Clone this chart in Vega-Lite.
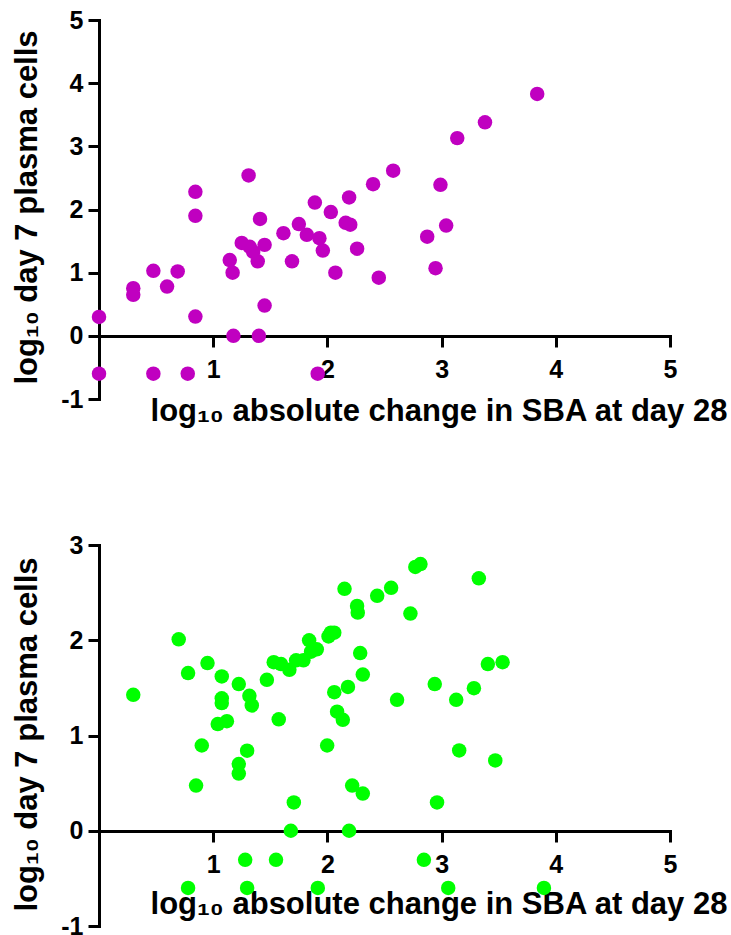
{
  "$schema": "https://vega.github.io/schema/vega-lite/v6.json",
  "padding": {"left": 10, "top": 8, "right": 5, "bottom": 5},
  "background": "white",
  "bounds": "flush",
  "spacing": 146,
  "config": {
    "view": {"stroke": null},
    "axis": {
      "grid": false,
      "domainColor": "black",
      "domainWidth": 3,
      "domainCap": "square",
      "tickColor": "black",
      "tickWidth": 3,
      "tickSize": 11,
      "labelFont": "Liberation Sans",
      "labelFontSize": 25,
      "labelFontWeight": "bold",
      "labelColor": "black",
      "labelOverlap": false,
      "labelFlush": false,
      "titleFont": "Liberation Sans",
      "titleFontSize": 31,
      "titleFontWeight": "bold",
      "titleColor": "black"
    }
  },
  "datasets": {
    "top": [
      {"x": 0.0, "y": 0.30}, {"x": 0.0, "y": -0.6}, {"x": 0.30, "y": 0.755}, {"x": 0.30, "y": 0.65},
      {"x": 0.476, "y": 1.03}, {"x": 0.476, "y": -0.6}, {"x": 0.596, "y": 0.78}, {"x": 0.689, "y": 1.02},
      {"x": 0.777, "y": -0.6}, {"x": 0.844, "y": 2.28}, {"x": 0.844, "y": 1.90}, {"x": 0.844, "y": 0.305},
      {"x": 1.145, "y": 1.20}, {"x": 1.17, "y": 1.00}, {"x": 1.177, "y": 0.0}, {"x": 1.25, "y": 1.47},
      {"x": 1.31, "y": 2.54}, {"x": 1.32, "y": 1.41}, {"x": 1.35, "y": 1.33}, {"x": 1.39, "y": 1.18},
      {"x": 1.40, "y": 0.0}, {"x": 1.41, "y": 1.85}, {"x": 1.45, "y": 1.44}, {"x": 1.45, "y": 0.48},
      {"x": 1.615, "y": 1.625}, {"x": 1.69, "y": 1.18}, {"x": 1.75, "y": 1.77}, {"x": 1.82, "y": 1.60},
      {"x": 1.89, "y": 2.11}, {"x": 1.93, "y": 1.545}, {"x": 1.96, "y": 1.35}, {"x": 1.915, "y": -0.6},
      {"x": 2.03, "y": 1.96}, {"x": 2.07, "y": 1.00}, {"x": 2.16, "y": 1.79}, {"x": 2.19, "y": 2.19},
      {"x": 2.20, "y": 1.76}, {"x": 2.26, "y": 1.38}, {"x": 2.40, "y": 2.40}, {"x": 2.45, "y": 0.92},
      {"x": 2.576, "y": 2.615}, {"x": 2.874, "y": 1.57}, {"x": 2.947, "y": 1.07}, {"x": 2.99, "y": 2.39},
      {"x": 3.04, "y": 1.745}, {"x": 3.137, "y": 3.13}, {"x": 3.38, "y": 3.38}, {"x": 3.837, "y": 3.83}
    ],
    "bottom": [
      {"x": 0.30, "y": 1.427}, {"x": 0.698, "y": 2.01}, {"x": 0.78, "y": 1.655}, {"x": 0.85, "y": 0.475},
      {"x": 0.90, "y": 0.895}, {"x": 0.95, "y": 1.76}, {"x": 1.04, "y": 1.12}, {"x": 1.075, "y": 1.62},
      {"x": 1.075, "y": 1.39}, {"x": 1.075, "y": 1.34}, {"x": 1.12, "y": 1.15}, {"x": 1.224, "y": 1.54},
      {"x": 1.224, "y": 0.70}, {"x": 1.224, "y": 0.60}, {"x": 1.297, "y": 0.84}, {"x": 1.317, "y": 1.417},
      {"x": 1.338, "y": 1.315}, {"x": 1.28, "y": -0.305}, {"x": 1.297, "y": -0.6}, {"x": 0.78, "y": -0.6},
      {"x": 1.47, "y": 1.585}, {"x": 1.53, "y": 1.77}, {"x": 1.55, "y": -0.305}, {"x": 1.574, "y": 1.17},
      {"x": 1.594, "y": 1.75}, {"x": 1.667, "y": 1.69}, {"x": 1.68, "y": 0.0}, {"x": 1.706, "y": 0.297},
      {"x": 1.726, "y": 1.79}, {"x": 1.79, "y": 1.79}, {"x": 1.84, "y": 2.00}, {"x": 1.857, "y": 1.88},
      {"x": 1.907, "y": 1.905}, {"x": 1.916, "y": -0.6}, {"x": 1.998, "y": 0.895}, {"x": 2.01, "y": 2.04},
      {"x": 2.03, "y": 2.08}, {"x": 2.06, "y": 2.08}, {"x": 2.06, "y": 1.455}, {"x": 2.085, "y": 1.25},
      {"x": 2.135, "y": 1.165}, {"x": 2.18, "y": 1.51}, {"x": 2.15, "y": 2.54}, {"x": 2.19, "y": 0.0},
      {"x": 2.217, "y": 0.475}, {"x": 2.26, "y": 2.36}, {"x": 2.266, "y": 2.29}, {"x": 2.287, "y": 1.865},
      {"x": 2.31, "y": 1.64}, {"x": 2.31, "y": 0.39}, {"x": 2.436, "y": 2.466}, {"x": 2.558, "y": 2.55},
      {"x": 2.61, "y": 1.375}, {"x": 2.727, "y": 2.28}, {"x": 2.77, "y": 2.77}, {"x": 2.815, "y": 2.80},
      {"x": 2.845, "y": -0.305}, {"x": 2.94, "y": 1.54}, {"x": 2.96, "y": 0.297}, {"x": 3.058, "y": -0.6},
      {"x": 3.128, "y": 1.375}, {"x": 3.154, "y": 0.843}, {"x": 3.283, "y": 1.497}, {"x": 3.326, "y": 2.65},
      {"x": 3.405, "y": 1.75}, {"x": 3.47, "y": 0.738}, {"x": 3.534, "y": 1.77}, {"x": 3.896, "y": -0.6}
    ]
  },
  "vconcat": [
    {
      "width": 571,
      "height": 379,
      "data": {"name": "top"},
      "mark": {"type": "circle", "size": 210, "opacity": 1, "color": "#C000C0"},
      "encoding": {
        "x": {
          "field": "x", "type": "quantitative",
          "scale": {"domain": [0, 5], "nice": false, "zero": false},
          "axis": {
            "values": [1, 2, 3, 4, 5], "offset": -63, "labelPadding": 10,
            "title": "log₁₀ absolute change in SBA at day 28",
            "titleX": 339.5, "titleY": 84, "titleAlign": "center", "titleBaseline": "alphabetic"
          }
        },
        "y": {
          "field": "y", "type": "quantitative",
          "scale": {"domain": [-1, 5], "nice": false, "zero": false},
          "axis": {
            "values": [-1, 0, 1, 2, 3, 4, 5], "labelPadding": 5,
            "labelExpr": "toString(datum.value)",
            "title": "log₁₀ day 7 plasma cells",
            "titleX": -63, "titleY": 187, "titleAngle": 270, "titleAlign": "center", "titleBaseline": "alphabetic"
          }
        }
      }
    },
    {
      "width": 571,
      "height": 381,
      "data": {"name": "bottom"},
      "mark": {"type": "circle", "size": 210, "opacity": 1, "color": "#00FF00"},
      "encoding": {
        "x": {
          "field": "x", "type": "quantitative",
          "scale": {"domain": [0, 5], "nice": false, "zero": false},
          "axis": {
            "values": [1, 2, 3, 4, 5], "offset": -95, "labelPadding": 10,
            "title": "log₁₀ absolute change in SBA at day 28",
            "titleX": 339.5, "titleY": 82, "titleAlign": "center", "titleBaseline": "alphabetic"
          }
        },
        "y": {
          "field": "y", "type": "quantitative",
          "scale": {"domain": [-1, 3], "nice": false, "zero": false},
          "axis": {
            "values": [-1, 0, 1, 2, 3], "labelPadding": 5,
            "labelExpr": "toString(datum.value)",
            "title": "log₁₀ day 7 plasma cells",
            "titleX": -63, "titleY": 189, "titleAngle": 270, "titleAlign": "center", "titleBaseline": "alphabetic"
          }
        }
      }
    }
  ]
}
